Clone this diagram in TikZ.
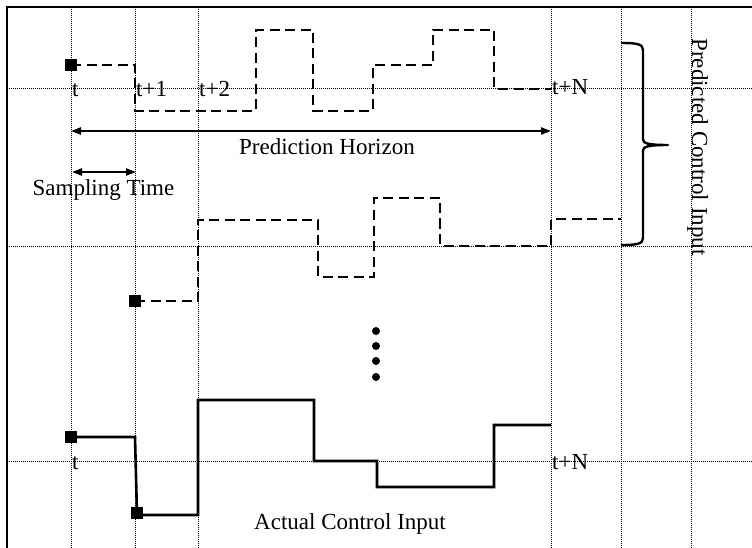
\documentclass[tikz,border=0pt]{standalone}
\usepackage{fontspec}
\setmainfont{Liberation Serif}
\usetikzlibrary{arrows.meta}
\begin{document}
\begin{tikzpicture}[x=1pt,y=-1pt,
  gridline/.style={black, line width=1pt, dash pattern=on 1pt off 1pt},
  pred/.style={line width=2.6pt, dash pattern=on 10pt off 5.5pt},
  actual/.style={line width=2.6pt},
  marker/.style={fill=black, rectangle, minimum size=11.5pt, inner sep=0pt, draw=none},
  lbl/.style={font=\fontsize{23}{27}\selectfont, inner sep=0pt},
  dimarrow/.style={line width=2.2pt, {Triangle[length=10pt,width=7pt]}-{Triangle[length=10pt,width=7pt]}},
  ]
\useasboundingbox (0,0) rectangle (752,548);
\fill[white] (0,0) rectangle (752,548);
% grid
\foreach \x in {71,135,198,551,621,691} \draw[gridline] (\x,7) -- (\x,548);
\foreach \y in {89,246,461} \draw[gridline] (7,\y) -- (752,\y);
% frame
\draw[line width=2.2pt] (7,548) -- (7,7) -- (752,7);
% predicted sequence 1
\draw[pred] (71,65) -| (135,111) -| (256,30) -| (313,111) -| (373,65) -| (433,30) -| (494,89) -- (551,89);
% predicted sequence 2
\draw[pred] (135,301) -| (198,220) -| (318,277) -| (374,198) -| (440,246) -| (551,219) -- (621,219);
% actual
\draw[actual] (71,437) -- (135,437) -- (137,515) -| (198,400) -| (314,461) -| (377,487) -| (494,425) -- (551,425);
% markers
\node[marker] (m1) at (71,65) {};
\node[marker] (m2) at (135,301) {};
\node[marker] (m3) at (71,437) {};
\node[marker] (m4) at (137,513) {};
% dots
\foreach \y in {331,346,361,377} \fill (376,\y) circle (4pt);
% horizons
\coordinate (hL) at (71,131);
\coordinate (hR) at (551,131);
\coordinate (sL) at (72,172);
\coordinate (sR) at (136,172);
\draw[dimarrow] (hL) -- (hR);
\draw[dimarrow] (sL) -- (sR);
% brace
\coordinate (bT) at (621,43);
\coordinate (bTip) at (668,145);
\coordinate (bB) at (621,245);
\draw[line width=2.4pt, line join=round]
  (bT) .. controls (637,43) and (643,44) .. (643,50) -- (643,139)
  .. controls (643,143) and (646,145) .. (bTip)
  .. controls (646,145) and (643,147) .. (643,151) -- (643,238)
  .. controls (643,244) and (637,245) .. (bB);
% labels
\node[lbl, anchor=base west] (t1) at (72,97) {t};
\node[lbl, anchor=base west] (t2) at (136,97) {t+1};
\node[lbl, anchor=base west] (t3) at (199,97) {t+2};
\node[lbl, anchor=base west] (t4) at (552,95) {t+N};
\node[lbl, anchor=base west] (t5) at (72,469) {t};
\node[lbl, anchor=base west] (t6) at (552,469) {t+N};
\node[lbl, anchor=base] (ph) at (327,155) {Prediction Horizon};
\node[lbl, anchor=base] (st) at (103.5,196) {Sampling Time};
\node[lbl, anchor=base] (aci) at (350,529) {Actual Control Input};
\node[lbl, anchor=base, rotate=-90] (pci) at (692,147) {Predicted Control Input};
\end{tikzpicture}
\end{document}
